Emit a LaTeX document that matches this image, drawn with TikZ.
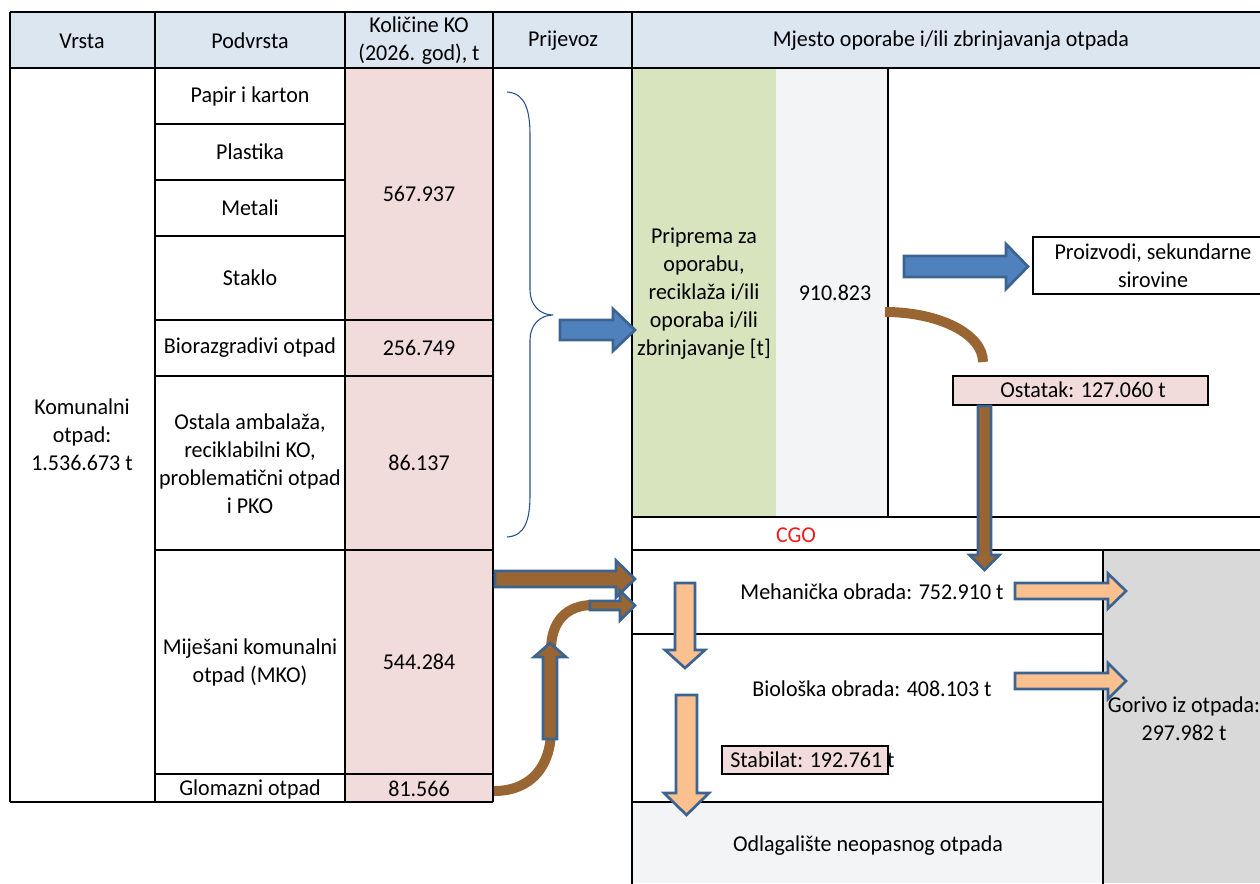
\documentclass[tikz,border=0pt]{standalone}
\usepackage{fontspec}
\setmainfont{Carlito}[FakeStretch=0.97]
\definecolor{hdr}{RGB}{220,230,241}
\definecolor{pinkc}{RGB}{242,220,219}
\definecolor{greenc}{RGB}{215,228,189}
\definecolor{lgrey}{RGB}{243,244,246}
\definecolor{dgrey}{RGB}{217,217,217}
\definecolor{brownc}{RGB}{153,102,51}
\definecolor{bluef}{RGB}{79,129,189}
\definecolor{blueb}{RGB}{60,100,145}
\definecolor{orangef}{RGB}{250,192,144}
\definecolor{bracec}{RGB}{40,80,140}
\definecolor{cgored}{RGB}{235,30,30}
\newcommand\harrow[7]{\draw[#1] ({#2},{#5-#6}) -- ({#3},{#5-#6}) -- ({#3},{#5-#7}) -- ({#4},{#5}) -- ({#3},{#5+#7}) -- ({#3},{#5+#6}) -- ({#2},{#5+#6}) -- cycle;}
\newcommand\varrow[7]{\draw[#1] ({#2-#6},{#3}) -- ({#2-#6},{#4}) -- ({#2-#7},{#4}) -- ({#2},{#5}) -- ({#2+#7},{#4}) -- ({#2+#6},{#4}) -- ({#2+#6},{#3}) -- cycle;}
\begin{document}
\begin{tikzpicture}[x=0.75pt,y=-0.75pt,
  font=\fontsize{17}{21}\selectfont,
  txt/.style={align=center,inner sep=0pt},
  grid/.style={line width=1.5pt,black},
  bluearr/.style={fill=bluef,draw=blueb,line width=2pt,line join=miter},
  brownarr/.style={fill=brownc,draw=blueb,line width=2pt,line join=miter},
  orangearr/.style={fill=orangef,draw=blueb,line width=2pt,line join=miter},
  brownline/.style={draw=brownc,line width=7.5pt},
  labelbox/.style={draw=black,line width=1.5pt,fill=pinkc}]
\useasboundingbox (0,0) rectangle (1260,883);
\clip (0,0) rectangle (1260,883);
% fills
\fill[hdr] (10,12) rectangle (1260,68);
\fill[pinkc] (345,68) rectangle (493,802);
\fill[greenc] (632,68) rectangle (776,517);
\fill[lgrey] (776,68) rectangle (888,517);
\fill[dgrey] (1103,550) rectangle (1260,883);
\fill[lgrey] (632,802) rectangle (1103,883);
% grid lines
\draw[grid] (10,12) -- (1262,12);
\draw[grid] (10,68) -- (1262,68);
\draw[grid] (10,12) -- (10,802);
\draw[grid] (155,12) -- (155,802);
\draw[grid] (345,12) -- (345,802);
\draw[grid] (493,12) -- (493,802);
\draw[grid] (632,12) -- (632,885);
\foreach \yy in {124,180,236} \draw[grid] (155,\yy) -- (345,\yy);
\foreach \yy in {320,376,550,774} \draw[grid] (155,\yy) -- (493,\yy);
\draw[grid] (10,802) -- (493,802);
\draw[grid] (888,68) -- (888,517);
\draw[grid] (632,517) -- (1262,517);
\draw[grid] (632,550) -- (1262,550);
\draw[grid] (1103,550) -- (1103,885);
\draw[grid] (632,634) -- (1103,634);
\draw[grid] (632,802) -- (1103,802);
% header texts
\node[txt] (hVrsta) at (82,41) {Vrsta};
\node[txt] (hPodvrsta) at (250,41) {Podvrsta};
\node[txt] (hKol) at (419,41) {Količine KO\\(2026. god), t};
\node[txt] (hPrij) at (563,41) {Prijevoz};
\node[txt] (hMjesto) at (951,41) {Mjesto oporabe i/ili zbrinjavanja otpada};
% left table texts
\node[txt] (komunalni) at (82,435) {Komunalni\\otpad:\\1.536.673 t};
\node[txt] (papir) at (250,96) {Papir i karton};
\node[txt] (plastika) at (250,152) {Plastika};
\node[txt] (metali) at (250,208) {Metali};
\node[txt] (staklo) at (250,278) {Staklo};
\node[txt] (bio) at (250,348) {Biorazgradivi otpad};
\node[txt] (ostala) at (250,463.5) {Ostala ambalaža,\\reciklabilni KO,\\problematični otpad\\i PKO};
\node[txt] (mko) at (250,662) {Miješani komunalni\\otpad (MKO)};
\node[txt] (glom) at (250,789) {Glomazni otpad};
\node[txt] (q1) at (419,194) {567.937};
\node[txt] (q2) at (419,348) {256.749};
\node[txt] (q3) at (419,463) {86.137};
\node[txt] (q4) at (419,662) {544.284};
\node[txt] (q5) at (419,789) {81.566};
% brace
\draw[bracec,line width=0.8pt] (507,92) .. controls (525,93) and (530,110) .. (530,135) -- (530,290) .. controls (530,305) and (540,315) .. (553,315) .. controls (540,315) and (530,325) .. (530,340) -- (530,495) .. controls (530,520) and (525,536) .. (507,537);
% right upper
\node[txt] (priprema) at (704,294) {Priprema za\\oporabu,\\reciklaža i/ili\\oporaba i/ili\\zbrinjavanje [t]};
\node[txt] (q910) at (835,293) {910.823};
\node[draw=black,line width=1.5pt,fill=white,minimum width=260pt,minimum height=42.75pt,anchor=north west,inner sep=0pt] (proizvodibox) at (1032,236) {};
\node[txt] (proizvodi) at (1153,265.5) {Proizvodi, sekundarne\\sirovine};
% brown curves
\draw[brownline] (885,312) .. controls (939,312) and (983,334) .. (983,362);
\draw[brownline] (494,791) .. controls (532,791) and (551,765) .. (551,730) -- (551,650) .. controls (551,622) and (566,605) .. (593,605);
% Ostatak box
\node[labelbox,minimum width=191.25pt,minimum height=21.75pt,inner sep=0pt] (ostatak) at (1080.5,390.5) {};
\node[txt] at (1083,390) {Ostatak: 127.060 t};
% arrows
\harrow{bluearr}{560}{613}{635}{330}{10}{21}
\harrow{bluearr}{904}{1006}{1028}{266.5}{10.5}{22.5}
\harrow{brownarr}{495}{616}{635}{579}{8}{18.5}
\harrow{brownarr}{590}{620}{635}{605.5}{4.5}{15}
\varrow{brownarr}{550}{739}{657}{643}{7}{16}
\varrow{brownarr}{984.5}{406}{555}{570}{6.5}{15}
\harrow{orangearr}{1015}{1108}{1126}{591}{8}{17.5}
\harrow{orangearr}{1015}{1108}{1126}{681}{8}{18}
\varrow{orangearr}{685}{583}{650}{668}{10}{20}
\varrow{orangearr}{686.5}{695}{793}{815}{10.5}{22.5}
% CGO area
\node[txt,text=cgored] (cgo) at (796,535) {CGO};
\node[txt] (meh) at (872,592) {Mehanička obrada: 752.910 t};
\node[txt] (biol) at (872,689) {Biološka obrada: 408.103 t};
\node[labelbox,minimum width=124.5pt,minimum height=21pt,inner sep=0pt] (stabbox) at (805,760) {};
\node[txt,anchor=west] (stab) at (730,760) {Stabilat: 192.761 t};
\node[txt] (odlag) at (868,846) {Odlagalište neopasnog otpada};
\node[txt] (gorivo) at (1184,719) {Gorivo iz otpada:\\297.982 t};
\end{tikzpicture}
\end{document}
